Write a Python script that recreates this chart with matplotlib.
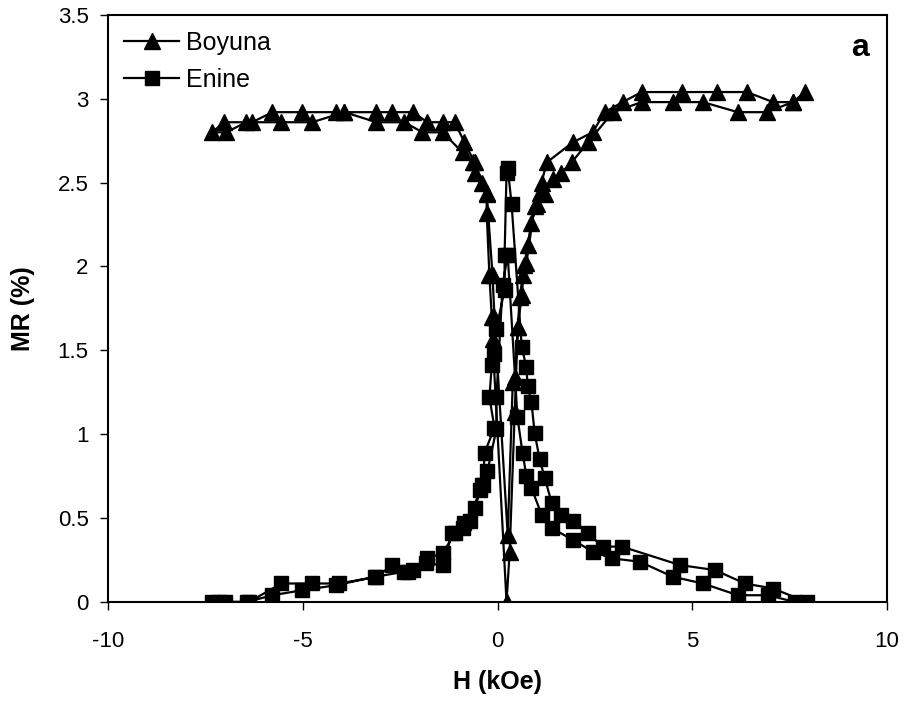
import matplotlib
matplotlib.use("Agg")
import matplotlib.pyplot as plt

plt.rcParams['font.family'] = ['Liberation Sans', 'DejaVu Sans']

# Boyuna: sweep from +8 kOe down to -7.3 kOe and back
boyuna_h = [7.89, 7.58, 6.91, 6.17, 5.27, 4.50, 3.70, 2.96, 2.32, 1.90, 1.64, 1.42,
            1.21, 1.08, 0.95, 0.74, 0.65, 0.57, 0.52, 0.44, 0.31, 0.23,
            -0.13, -0.15, -0.21, -0.28, -0.28, -0.41, -0.59, -0.85, -1.10, -1.41,
            -1.80, -2.18, -2.70, -3.11, -3.93, -4.14, -5.01, -5.78, -6.30, -7.02, -7.33,
            -6.97, -6.45, -5.55, -4.76, -3.93, -3.11, -2.39, -1.93, -1.41, -0.90,
            -0.64, -0.59, -0.28, -0.13, -0.08, 0.26, 0.39, 0.44, 0.52, 0.62, 0.69,
            0.77, 0.87, 1.00, 1.13, 1.26, 1.93, 2.44, 2.75, 3.21, 3.70, 4.73, 5.63,
            6.40, 7.07, 7.58]
boyuna_mr = [3.04, 2.98, 2.92, 2.92, 2.98, 2.98, 2.98, 2.92, 2.74, 2.62, 2.56, 2.52,
             2.43, 2.44, 2.36, 2.02, 1.95, 1.82, 1.64, 1.13, 0.30, 0.00,
             1.57, 1.70, 1.95, 2.32, 2.43, 2.50, 2.62, 2.74, 2.86, 2.86,
             2.86, 2.92, 2.92, 2.92, 2.92, 2.92, 2.92, 2.92, 2.86, 2.86, 2.80,
             2.80, 2.86, 2.86, 2.86, 2.92, 2.86, 2.86, 2.80, 2.80, 2.68,
             2.62, 2.56, 2.44, 1.95, 1.70, 0.40, 1.31, 1.34, 1.64, 1.83, 2.01,
             2.13, 2.26, 2.37, 2.50, 2.62, 2.74, 2.80, 2.92, 2.98, 3.04, 3.04, 3.04,
             3.04, 2.98, 2.98]

# Enine: same sweep
enine_h = [7.94, 7.07, 6.35, 5.58, 4.68, 3.19, 2.70, 2.31, 1.93, 1.64, 1.39, 1.21,
           1.08, 0.95, 0.87, 0.77, 0.74, 0.62, 0.36, 0.26, 0.23, 0.18, 0.18,
           -0.03, -0.08, -0.15, -0.21, -0.08, -0.33, -0.38, -0.59, -0.85, -1.10,
           -1.41, -1.80, -2.31, -2.70, -3.11, -4.06, -4.76, -5.55, -6.38, -7.15, -7.33,
           -7.00, -6.43, -5.78, -5.01, -4.14, -3.14, -2.39, -2.18, -1.83, -1.41, -1.16,
           -0.90, -0.72, -0.46, -0.41, -0.26, -0.03, -0.03, 0.13, 0.26, 0.51, 0.64,
           0.74, 0.87, 1.13, 1.39, 1.93, 2.44, 2.93, 3.65, 4.50, 5.27, 6.17, 6.94, 7.63]
enine_mr = [0.00, 0.08, 0.11, 0.19, 0.22, 0.33, 0.33, 0.41, 0.48, 0.52, 0.59, 0.74,
            0.85, 1.01, 1.19, 1.29, 1.40, 1.52, 2.37, 2.59, 2.56, 2.07, 1.86,
            1.63, 1.48, 1.41, 1.22, 1.04, 0.89, 0.70, 0.56, 0.47, 0.41,
            0.29, 0.26, 0.18, 0.22, 0.15, 0.11, 0.11, 0.11, 0.00, 0.00, 0.00,
            0.00, 0.00, 0.04, 0.07, 0.10, 0.15, 0.18, 0.19, 0.23, 0.22, 0.41,
            0.44, 0.48, 0.67, 0.70, 0.78, 1.03, 1.22, 1.89, 2.07, 1.10, 0.89,
            0.75, 0.68, 0.52, 0.44, 0.37, 0.30, 0.26, 0.24, 0.15, 0.11, 0.04, 0.04, 0.00]

fig = plt.figure(figsize=(9.08, 7.09), dpi=100)
ax = fig.add_axes([0.119, 0.151, 0.858, 0.828])

ax.plot(boyuna_h, boyuna_mr, color='black', lw=1.6, marker='^', ms=11, label='Boyuna')
ax.plot(enine_h, enine_mr, color='black', lw=1.6, marker='s', ms=9.5, label='Enine')

ax.set_xlim(-10, 10)
ax.set_ylim(0, 3.5)
ax.set_xticks([-10, -5, 0, 5, 10])
ax.set_xticklabels(['-10', '-5', '0', '5', '10'])
ax.set_yticks([0, 0.5, 1, 1.5, 2, 2.5, 3, 3.5])
ax.set_yticklabels(['0', '0.5', '1', '1.5', '2', '2.5', '3', '3.5'])
ax.tick_params(direction='out', length=6, width=1, labelsize=16)
ax.tick_params(axis='x', pad=15)
ax.tick_params(axis='y', pad=8)
for s in ax.spines.values():
    s.set_linewidth(1.5)

ax.set_xlabel('H (kOe)', fontsize=18, fontweight='bold', labelpad=13)
ax.set_ylabel('MR (%)', fontsize=18, fontweight='bold', labelpad=16)

ax.legend(loc='upper left', frameon=False, fontsize=18, handlelength=2.2,
          handletextpad=0.25, labelspacing=0.5, borderaxespad=0.25)
ax.text(0.965, 0.944, 'a', transform=ax.transAxes, fontsize=23, fontweight='bold',
        ha='center', va='center')

fig.savefig('out.png', dpi=100)
